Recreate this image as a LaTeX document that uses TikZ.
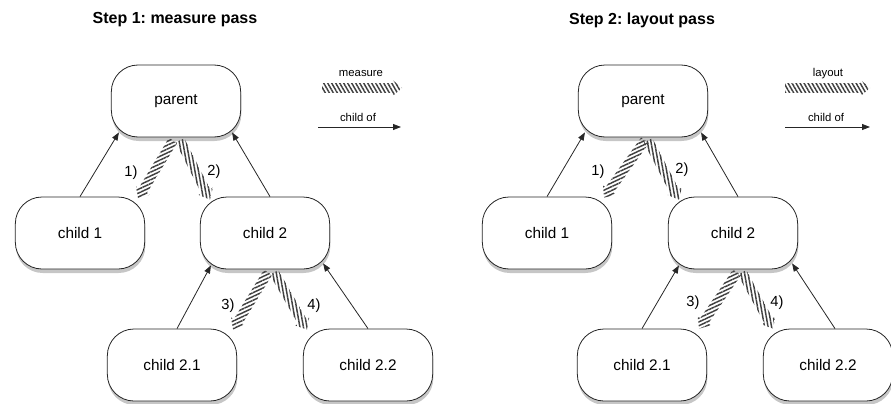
\documentclass[tikz,border=0pt]{standalone}
\usepackage{fontspec}
\setmainfont{Liberation Sans}
\frenchspacing
\usetikzlibrary{arrows.meta, positioning, calc, shadows, patterns.meta}

% hatched band arrow: style, from, to
\newcommand{\passarrow}[3]{%
  \coordinate (pa) at (#2);
  \coordinate (pb) at (#3);
  \coordinate (ph) at ($(pb)!7pt!(pa)$);
  \fill[#1] ($(pa)!3.6pt!90:(pb)$) -- ($(ph)!3.6pt!-90:(pa)$) -- ($(ph)!6pt!-90:(pa)$) -- (pb)
    -- ($(ph)!6pt!90:(pa)$) -- ($(ph)!3.6pt!90:(pa)$) -- ($(pa)!3.6pt!-90:(pb)$) -- cycle;}

\begin{document}
\begin{tikzpicture}[x = 0.75pt, y = -0.75pt, > = {Triangle[length=6pt, width=4.5pt]},
	box/.style = {draw = black!85, line width = 0.6pt, fill = white, rounded corners = 20pt,
		minimum width = 97pt, minimum height = 54pt, font = \fontsize{11.5}{13}\selectfont,
		drop shadow = {shadow xshift = 0.5pt, shadow yshift = -3pt, opacity = 0.45}},
	title/.style = {font = \fontsize{12}{14}\selectfont\bfseries},
	legend/.style = {font = \fontsize{8.5}{10}\selectfont},
	num/.style = {font = \fontsize{11}{13}\selectfont},
	childof/.style = {->, draw = black!85, line width = 0.6pt},
	slash/.style = {pattern = {Lines[angle=25, distance=2.6pt, line width=1.1pt]}, pattern color = black!75},
	backslash/.style = {pattern = {Lines[angle=100, distance=2.6pt, line width=1.1pt]}, pattern color = black!75},
	flat/.style = {pattern = {Lines[angle=-60, distance=2.6pt, line width=1.1pt]}, pattern color = black!75}]

\useasboundingbox (0,0) rectangle (891,403);

% step 1
\node[title]	(t1)	at (175,20)		{Step 1: measure pass};
\node[box]		(lp)	at (176,101)	{parent};
\node[box]		(lc1)	at (80,233)		{child 1};
\node[box]		(lc2)	at (265,233)	{child 2};
\node[box]		(lc21)	at (172,365)	{child 2.1};
\node[box]		(lc22)	at (368,365)	{child 2.2};

\path	(lc1.north)				edge[childof]	($(lp.south west)+(8,-5)$);
\path	($(lc2.north)+(5,0)$)	edge[childof]	($(lp.south east)+(-9,-5)$);
\path	($(lc21.north)+(5,0)$)	edge[childof]	($(lc2.south west)+(11,-4)$);
\path	(lc22.north)			edge[childof]	($(lc2.south east)+(-7,-6)$);

\passarrow{slash}{$(lp.south)+(-3,3)$}{$(lc1.north east)+(-7,2)$}
\passarrow{backslash}{$(lp.south)+(4,3)$}{$(lc2.north west)+(10,3)$}
\passarrow{slash}{$(lc2.south)+(3,3)$}{$(lc21.north east)+(-4,1)$}
\passarrow{backslash}{$(lc2.south)+(9,3)$}{$(lc22.north west)+(4,1)$}

\node[num]	(l1)	at (131,173)	{1)};
\node[num]	(l2)	at (214,172)	{2)};
\node[num]	(l3)	at (228,306)	{3)};
\node[num]	(l4)	at (314,306)	{4)};

\node[legend]	(lm)	at (361,74)		{measure};
\coordinate		(lma)	at (322,88);
\coordinate		(lmb)	at (402,88);
\passarrow{flat}{lma}{lmb}
\node[legend]	(lco)	at (358,117)	{child of};
\coordinate		(lca)	at (318,127);
\coordinate		(lcb)	at (401,127);
\path	(lca)	edge[childof]	(lcb);

% step 2
\node[title]	(t2)	at (642,20)		{Step 2: layout pass};
\node[box]		(rp)	at (643,101)	{parent};
\node[box]		(rc1)	at (547,233)	{child 1};
\node[box]		(rc2)	at (733,233)	{child 2};
\node[box]		(rc21)	at (642,365)	{child 2.1};
\node[box]		(rc22)	at (828,365)	{child 2.2};

\path	(rc1.north)				edge[childof]	($(rp.south west)+(7,-5)$);
\path	($(rc2.north)+(5,0)$)	edge[childof]	($(rp.south east)+(-7,-5)$);
\path	(rc21.north)			edge[childof]	($(rc2.south west)+(11,-4)$);
\path	($(rc22.north)+(7,0)$)	edge[childof]	($(rc2.south east)+(-6,-6)$);

\passarrow{slash}{$(rp.south)+(2,3)$}{$(rc1.north east)+(-8,1)$}
\passarrow{backslash}{$(rp.south)+(5,3)$}{$(rc2.north west)+(11,3)$}
\passarrow{slash}{$(rc2.south)+(4,3)$}{$(rc21.north east)+(-8,0)$}
\passarrow{backslash}{$(rc2.south)+(9,3)$}{$(rc22.north west)+(10,0)$}

\node[num]	(r1)	at (598,172)	{1)};
\node[num]	(r2)	at (682,170)	{2)};
\node[num]	(r3)	at (693,303)	{3)};
\node[num]	(r4)	at (777,303)	{4)};

\node[legend]	(rl)	at (828,74)		{layout};
\coordinate		(rla)	at (785,88);
\coordinate		(rlb)	at (870,88);
\passarrow{flat}{rla}{rlb}
\node[legend]	(rco)	at (826,117)	{child of};
\coordinate		(rca)	at (785,127);
\coordinate		(rcb)	at (870,127);
\path	(rca)	edge[childof]	(rcb);

\end{tikzpicture}
\end{document}
